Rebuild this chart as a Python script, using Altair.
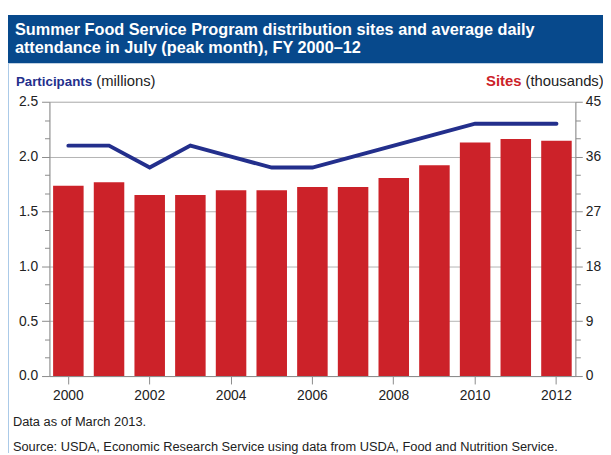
import altair as alt
import pandas as pd

# ---- data ----
years = list(range(2000, 2013))
sites_thousands = [31.2, 31.8, 29.7, 29.7, 30.5, 30.5, 31.0, 31.0, 32.5, 34.6, 38.3, 38.9, 38.6]
participants_millions = [2.1, 2.1, 1.9, 2.1, 2.0, 1.9, 1.9, 2.0, 2.1, 2.2, 2.3, 2.3, 2.3]
x_tick_years = [2000, 2002, 2004, 2006, 2008, 2010, 2012]
left_ticks = [i / 6 for i in range(16)]          # major every 0.5, minor between
right_ticks = list(range(0, 46, 3))              # major every 9, minor every 3

title_line1 = "Summer Food Service Program distribution sites and average daily"
title_line2 = "attendance in July (peak month), FY 2000\u201312"
left_label_bold = "Participants"
left_label_rest = "(millions)"
right_label_bold = "Sites"
right_label_rest = "(thousands)"
note_text = "Data as of March 2013."
source_text = "Source: USDA, Economic Research Service using data from USDA, Food and Nutrition Service."

FONT = "Liberation Sans"
BAR = "#cc2229"
NAVY = "#232f8c"
BANNER = "#07498c"
GRID = "#b4b4b4"
AX = "#8a8a8a"

df = pd.DataFrame({"year": years, "sites": sites_thousands, "participants": participants_millions})
base = alt.Chart(df)

x_enc = alt.X(
    "year:O",
    scale=alt.Scale(paddingInner=0.25, paddingOuter=0.09),
    axis=alt.Axis(values=x_tick_years, title=None, labelAngle=0, labelFontSize=14,
                  labelColor="#222", labelFont=FONT, tickColor=AX, domainColor=AX,
                  tickSize=8, labelPadding=5, grid=False),
)

bars = base.mark_bar(color=BAR).encode(
    x=x_enc,
    y=alt.Y("sites:Q", scale=alt.Scale(domain=[0, 45], nice=False),
            axis=alt.Axis(orient="right", values=right_ticks, title=None,
                          labelExpr="datum.value % 9 == 0 ? datum.label : ''",
                          labelFontSize=14, labelColor="#222", labelFont=FONT, labelPadding=3,
                          grid=True, gridColor=GRID,
                          gridOpacity={"condition": {"test": "datum.value % 9 == 0", "value": 1}, "value": 0},
                          tickSize={"condition": {"test": "datum.value % 9 == 0", "value": 7}, "value": 5},
                          tickColor=AX, domainColor=AX)),
)

line = base.mark_line(color=NAVY, strokeWidth=4, strokeCap="round").encode(
    x=x_enc,
    y=alt.Y("participants:Q", scale=alt.Scale(domain=[0, 2.5], nice=False),
            axis=alt.Axis(orient="left", values=left_ticks, title=None,
                          labelExpr="abs(datum.value*2 - round(datum.value*2)) < 0.001 ? format(datum.value, '.1f') : ''",
                          labelFontSize=14, labelColor="#222", labelFont=FONT, labelPadding=4,
                          grid=False,
                          tickSize={"condition": {"test": "abs(datum.value*2 - round(datum.value*2)) < 0.001", "value": 8}, "value": 5},
                          tickColor=AX, domainColor=AX)),
)

one = pd.DataFrame({"k": [0]})

banner = alt.Chart(one).mark_rect(color=BANNER).encode(
    x=alt.value(-42), x2=alt.value(561), y=alt.value(-88), y2=alt.value(-39))
border = alt.Chart(one).mark_rule(color="#a9c9e8", strokeWidth=1).encode(
    x=alt.value(-41.5), y=alt.value(-39), y2=alt.value(356))


def txt(s, x, y, size=14, weight="normal", color="#222", align="left"):
    return alt.Chart(pd.DataFrame({"t": [s]})).mark_text(
        font=FONT, fontSize=size, fontWeight=weight, color=color, align=align, baseline="alphabetic"
    ).encode(text="t:N", x=alt.value(x), y=alt.value(y))


texts = [
    txt(title_line1, -35, -68, 16.5, "bold", "white"),
    txt(title_line2, -35, -49.5, 16.5, "bold", "white"),
    txt(left_label_bold, -34, -16, 13.5, "bold", NAVY),
    txt(left_label_rest, 47.5, -16, 15, "normal", "#222"),
    txt(right_label_bold, 442.5, -16, 15, "bold", BAR),
    txt(right_label_rest, 482.5, -16, 15, "normal", "#222"),
    txt(note_text, -37, 328.5, 13),
    txt(source_text, -37, 353.5, 13),
]

chart = alt.layer(bars, line, banner, border, *texts).resolve_scale(
    y="independent"
).properties(
    width=533, height=278,
    autosize=alt.AutoSizeParams(type="none"),
    padding={"left": 42, "top": 92, "right": 28, "bottom": 77},
).configure_view(stroke=None).configure(font=FONT)

chart.save("out.html", embed_options={"renderer": "svg", "actions": False})
